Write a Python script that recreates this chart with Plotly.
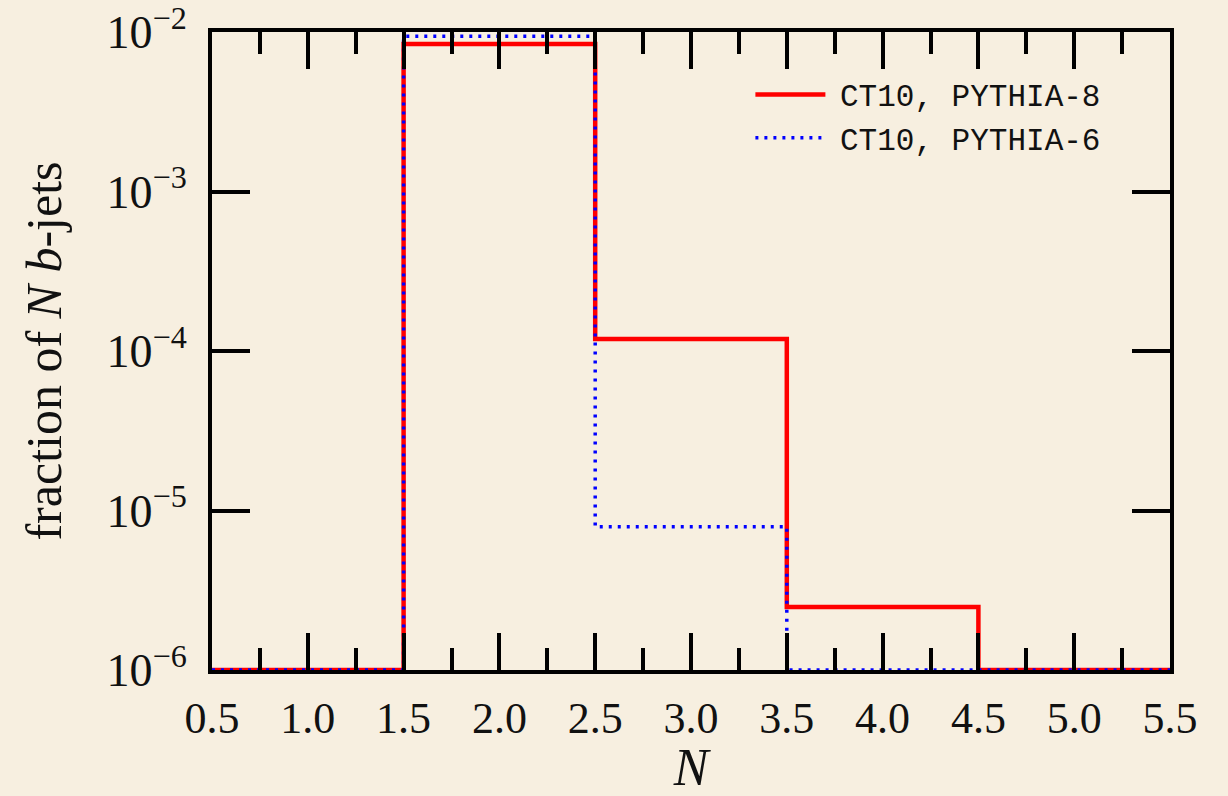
import plotly.graph_objects as go

# Data: bin centres and fractions (bins at the bottom edge are below 1e-6)
n_bins = [1, 2, 3, 4, 5]
frac_p8 = [1e-6, 8.4e-3, 1.19e-4, 2.48e-6, 1e-6]
frac_p6 = [1e-6, 9.4e-3, 7.9e-6, 1e-6, 1e-6]
series_names = ["CT10, PYTHIA-8", "CT10, PYTHIA-6"]
y_tick_vals = [1e-6, 1e-5, 1e-4, 1e-3, 1e-2]
y_tick_text = ["10<sup>\u22126</sup>", "10<sup>\u22125</sup>", "10<sup>\u22124</sup>",
               "10<sup>\u22123</sup>", "10<sup>\u22122</sup>"]
x_tick_vals = [0.5, 1.0, 1.5, 2.0, 2.5, 3.0, 3.5, 4.0, 4.5, 5.0, 5.5]
x_tick_text = ["0.5", "1.0", "1.5", "2.0", "2.5", "3.0", "3.5", "4.0", "4.5", "5.0", "5.5"]


def step(centers, vals):
    xs = [c - 0.5 for c in centers] + [centers[-1] + 0.5]
    ys = list(vals) + [vals[-1]]
    return xs, ys


def pad(name):
    return "<span style='font-size:16px'>\u00a0</span>" + name


bg = "#F7EFE0"
fig = go.Figure()
x8, y8 = step(n_bins, frac_p8)
x6, y6 = step(n_bins, frac_p6)
fig.add_trace(go.Scatter(x=x8, y=y8, mode="lines", line=dict(shape="hv", color="#FF0000", width=4.5),
                         name=pad(series_names[0])))
fig.add_trace(go.Scatter(x=x6, y=y6, mode="lines", line=dict(shape="hv", color="#0000FF", width=3.5, dash="3px,6px"),
                         name=pad(series_names[1])))

fig.update_layout(
    width=1228, height=796,
    paper_bgcolor=bg, plot_bgcolor=bg,
    margin=dict(l=212, r=58, t=32, b=126),
    font=dict(family="Liberation Serif", color="#111111"),
    legend=dict(x=0.562, y=0.944, xanchor="left", yanchor="top", bgcolor="rgba(0,0,0,0)",
                font=dict(family="Liberation Mono", size=31, color="#111111"),
                itemwidth=70, tracegroupgap=0),
    showlegend=True,
)
fig.update_xaxes(
    range=[0.5, 5.5], tickvals=x_tick_vals, ticktext=x_tick_text,
    ticks="inside", ticklen=37, tickwidth=4, tickcolor="black",
    minor=dict(dtick=0.25, tick0=0.5, ticks="inside", ticklen=22, tickwidth=4, tickcolor="black"),
    showline=True, linewidth=4, linecolor="black", mirror="allticks",
    showgrid=False, zeroline=False, automargin=False, ticklabelstandoff=6,
    tickfont=dict(size=44), title=dict(text="<i>N</i>", font=dict(size=52), standoff=4),
)
fig.update_yaxes(
    type="log", range=[-6, -2], tickvals=y_tick_vals, ticktext=y_tick_text,
    ticks="inside", ticklen=38, tickwidth=4, tickcolor="black",
    showline=True, linewidth=4, linecolor="black", mirror="allticks",
    showgrid=False, zeroline=False, automargin=False, ticklabelstandoff=12,
    ticklabeloverflow="allow",
    tickfont=dict(size=46), title=dict(text="fraction of <i>N</i> <i>b</i>-jets", font=dict(size=50), standoff=30),
)
fig.write_html("out.html", config={"displayModeBar": False},
               post_script="document.body.style.margin='0';document.body.style.background='%s';" % bg)
